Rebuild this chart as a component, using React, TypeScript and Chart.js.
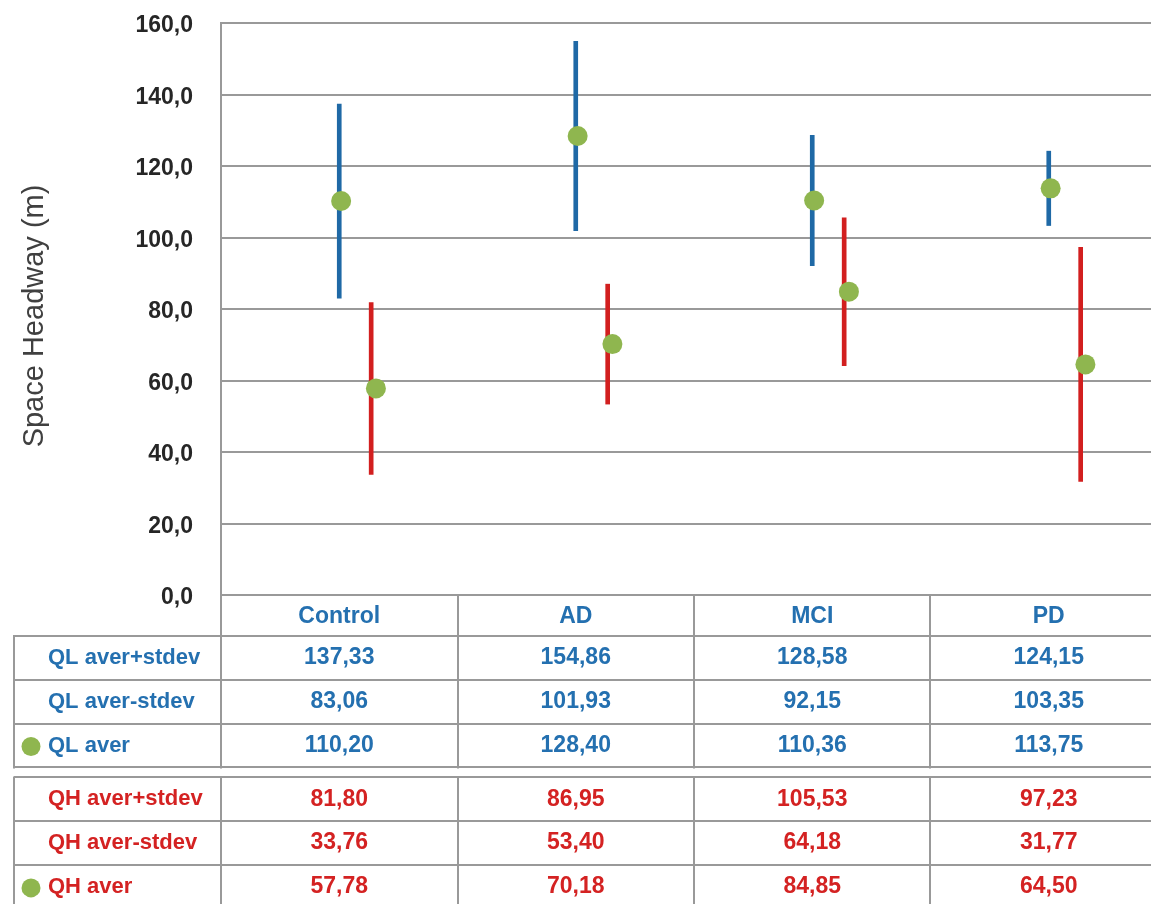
import React, { useEffect, useRef } from "react";
import { Chart, registerables } from "chart.js";

Chart.register(...registerables);

// Groups along the x axis
const categories = ["Control", "AD", "MCI", "PD"];

// Space headway statistics (m) per group
const qlHigh = [137.33, 154.86, 128.58, 124.15];
const qlLow = [83.06, 101.93, 92.15, 103.35];
const qlAvg = [110.2, 128.4, 110.36, 113.75];
const qhHigh = [81.8, 86.95, 105.53, 97.23];
const qhLow = [33.76, 53.4, 64.18, 31.77];
const qhAvg = [57.78, 70.18, 84.85, 64.5];

// Y axis ticks
const yTicks = [0, 20, 40, 60, 80, 100, 120, 140, 160];

const BLUE = "#1f69a6";
const RED = "#d21f1f";
const GREEN = "#8fb64f";
const GRID = "#999999";
const TEXT_BLUE = "#2470b0";
const TEXT_RED = "#d42222";
const FONT = "'Liberation Sans', Arial, sans-serif";

const fmt = (v: number, d: number) => v.toFixed(d).replace(".", ",");

// offsets of each series inside its category column
const QL_LINE = 0.5;
const QL_DOT = 0.508;
const QH_LINE = 0.635;
const QH_DOT = 0.655;

const tableRows = [
  { label: "QL aver+stdev", values: qlHigh, color: TEXT_BLUE, key: false },
  { label: "QL aver-stdev", values: qlLow, color: TEXT_BLUE, key: false },
  { label: "QL aver", values: qlAvg, color: TEXT_BLUE, key: true },
  { label: "QH aver+stdev", values: qhHigh, color: TEXT_RED, key: false },
  { label: "QH aver-stdev", values: qhLow, color: TEXT_RED, key: false },
  { label: "QH aver", values: qhAvg, color: TEXT_RED, key: true },
];

const dataTablePlugin = {
  id: "dataTable",
  afterDraw(chart: any) {
    const ctx = chart.ctx as CanvasRenderingContext2D;
    const x = chart.scales.x;
    const area = chart.chartArea;
    const W = chart.width;
    const top = area.bottom;
    const headerH = 41;
    const rowH = 43.8;
    const gap = 10;
    const labelLeft = 14;
    const cols = [0, 1, 2, 3, 4].map((i) => x.getPixelForValue(i));

    ctx.save();
    ctx.strokeStyle = GRID;
    ctx.lineWidth = 2;

    const hLine = (y: number, x0: number) => {
      ctx.beginPath();
      ctx.moveTo(x0, Math.round(y));
      ctx.lineTo(W, Math.round(y));
      ctx.stroke();
    };
    const vLine = (xx: number, y0: number, y1: number) => {
      ctx.beginPath();
      ctx.moveTo(Math.round(xx), y0);
      ctx.lineTo(Math.round(xx), y1);
      ctx.stroke();
    };

    const headerBottom = top + headerH;
    const block1Bottom = headerBottom + 3 * rowH;
    const block2Top = block1Bottom + gap;
    const block2Bottom = block2Top + 3 * rowH;

    // column separators
    cols.forEach((c) => {
      vLine(c, top, block1Bottom + 1);
      vLine(c, block2Top - 1, block2Bottom + 1);
    });
    vLine(labelLeft, headerBottom - 1, block1Bottom + 1);
    vLine(labelLeft, block2Top - 1, block2Bottom + 1);

    for (let r = 0; r <= 3; r++) hLine(headerBottom + r * rowH, labelLeft);
    for (let r = 0; r <= 3; r++) hLine(block2Top + r * rowH, labelLeft);

    ctx.textBaseline = "middle";
    ctx.font = `bold 23px ${FONT}`;

    // header
    ctx.fillStyle = TEXT_BLUE;
    ctx.textAlign = "center";
    categories.forEach((c, i) => {
      ctx.fillText(c, (cols[i] + cols[i + 1]) / 2, top + headerH / 2 + 1);
    });

    tableRows.forEach((row, r) => {
      const y0 = r < 3 ? headerBottom + r * rowH : block2Top + (r - 3) * rowH;
      const cy = y0 + rowH / 2;
      ctx.fillStyle = row.color;
      ctx.textAlign = "left";
      ctx.font = `bold 22px ${FONT}`;
      ctx.fillText(row.label, 48, cy);
      if (row.key) {
        ctx.beginPath();
        ctx.fillStyle = GREEN;
        ctx.arc(31, cy + 1, 9.5, 0, Math.PI * 2);
        ctx.fill();
        ctx.fillStyle = row.color;
      }
      ctx.textAlign = "center";
      ctx.font = `bold 23px ${FONT}`;
      row.values.forEach((v, i) => {
        ctx.fillText(fmt(v, 2), (cols[i] + cols[i + 1]) / 2, cy);
      });
    });

    // y axis title
    ctx.save();
    ctx.translate(35, 316);
    ctx.rotate(-Math.PI / 2);
    ctx.fillStyle = "#404040";
    ctx.font = `29px ${FONT}`;
    ctx.textAlign = "center";
    ctx.fillText("Space Headway (m)", 0, 0);
    ctx.restore();

    ctx.restore();
  },
};

export default function App() {
  const canvasRef = useRef<HTMLCanvasElement>(null);

  useEffect(() => {
    if (!canvasRef.current) return;
    const colWidth = 236.5;
    const plotLeft = 221;
    const xMax = (1151 - plotLeft) / colWidth;

    const chart = new Chart(canvasRef.current, {
      type: "bar",
      data: {
        datasets: [
          {
            type: "scatter",
            label: "QL aver",
            data: qlAvg.map((v, i) => ({ x: i + QL_DOT, y: v })),
            backgroundColor: GREEN,
            borderColor: GREEN,
            pointRadius: 10,
            borderWidth: 0,
            order: 0,
          } as any,
          {
            type: "scatter",
            label: "QH aver",
            data: qhAvg.map((v, i) => ({ x: i + QH_DOT, y: v })),
            backgroundColor: GREEN,
            borderColor: GREEN,
            pointRadius: 10,
            borderWidth: 0,
            order: 0,
          } as any,
          {
            type: "bar",
            label: "QL aver±stdev",
            data: qlLow.map((lo, i) => ({ x: i + QL_LINE, y: [lo, qlHigh[i]] })),
            backgroundColor: BLUE,
            barThickness: 4,
            grouped: false,
            borderSkipped: false,
            order: 1,
          } as any,
          {
            type: "bar",
            label: "QH aver±stdev",
            data: qhLow.map((lo, i) => ({ x: i + QH_LINE, y: [lo, qhHigh[i]] })),
            backgroundColor: RED,
            barThickness: 4,
            grouped: false,
            borderSkipped: false,
            order: 1,
          } as any,
        ],
      },
      options: {
        responsive: false,
        animation: false,
        layout: { autoPadding: false, padding: { left: 0, right: 0, top: 23, bottom: 904 - 595 } },
        plugins: {
          legend: { display: false },
          tooltip: { enabled: false },
        },
        scales: {
          x: {
            type: "linear",
            min: 0,
            max: xMax,
            offset: false,
            display: false,
          },
          y: {
            min: 0,
            max: 160,
            afterFit: (scale: any) => {
              scale.width = plotLeft;
              scale.paddingTop = 0;
              scale.paddingBottom = 0;
            },
            afterBuildTicks: (scale: any) => {
              scale.ticks = yTicks.map((v) => ({ value: v }));
            },
            grid: {
              color: GRID,
              lineWidth: 2,
              drawTicks: false,
            },
            border: { display: true, color: GRID, width: 2 },
            ticks: {
              padding: 28,
              labelOffset: 3,
              color: "#262626",
              font: { family: FONT, size: 23, weight: "bold" },
              callback: (v: any) => fmt(Number(v), 1),
            },
          },
        },
      } as any,
      plugins: [dataTablePlugin],
    });
    return () => chart.destroy();
  }, []);

  return (
    <div style={{ position: "absolute", left: 0, top: 0, width: 1151, height: 904, background: "#fff", overflow: "hidden" }}>
      <canvas ref={canvasRef} width={1151} height={904} style={{ display: "block" }} />
    </div>
  );
}
